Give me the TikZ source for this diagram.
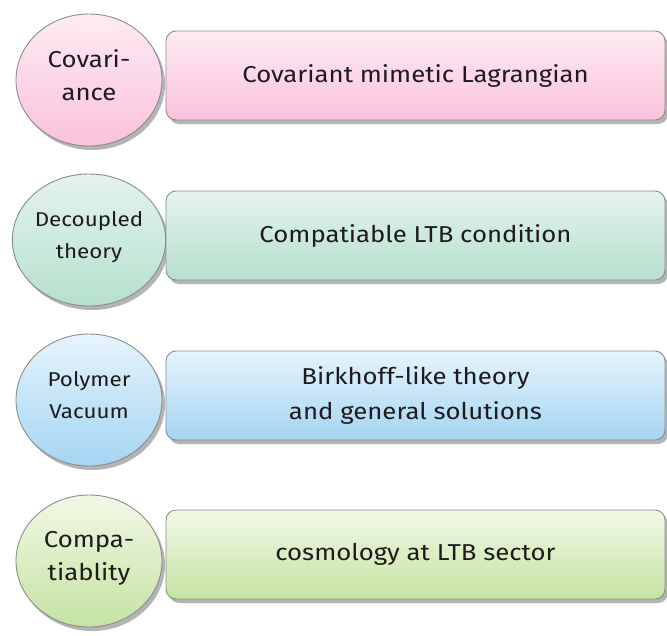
\documentclass[tikz,border=0pt]{standalone}
\usepackage{fontspec}
\setmainfont[FakeStretch=1.12]{Fira Sans}
\usetikzlibrary{shapes.geometric,shadows}

% gradient pairs for the four rows
\definecolor{pinkT}{HTML}{FDEBF3}
\definecolor{pinkB}{HTML}{FBC2DB}
\definecolor{tealT}{HTML}{E4F3ED}
\definecolor{tealB}{HTML}{B6E0CE}
\definecolor{blueT}{HTML}{E6F4FC}
\definecolor{blueB}{HTML}{A4D5F2}
\definecolor{limeT}{HTML}{F1F8E6}
\definecolor{limeB}{HTML}{C5E3A2}
\definecolor{edgegray}{HTML}{8C8C8C}
\definecolor{shadowgray}{HTML}{B4B4B4}
\definecolor{ink}{HTML}{1E1A1E}

\tikzset{
  shade/.style={drop shadow={shadow xshift=3pt, shadow yshift=-4pt,
                             fill=shadowgray, opacity=1}},
  bubble/.style={ellipse, draw=edgegray, line width=0.9pt, shade,
                 minimum width=146pt, minimum height=132pt, inner sep=0pt,
                 align=center, text=ink, text depth=10pt},
  panel/.style={rectangle, rounded corners=10pt, draw=edgegray, line width=0.9pt,
                shade, minimum width=499pt, minimum height=89pt, inner sep=0pt,
                align=center, text=ink,
                font=\fontsize{23}{35}\selectfont},
  bigtxt/.style={font=\fontsize{23}{33}\selectfont},
  smalltxt/.style={font=\fontsize{20}{32}\selectfont},
}

\begin{document}
\begin{tikzpicture}[x=1pt, y=-1pt]
  \useasboundingbox (0,0) rectangle (667,635);

  % left-hand topic bubbles
  \node[bubble, bigtxt, top color=pinkT, bottom color=pinkB] (c1) at (89,80) {Covari-\\ance};
  \node[bubble, smalltxt, top color=tealT, bottom color=tealB] (c2) at (89,240) {Decoupled\\theory};
  \node[bubble, smalltxt, top color=blueT, bottom color=blueB] (c3) at (89,400) {Polymer\\Vacuum};
  \node[bubble, bigtxt, top color=limeT, bottom color=limeB] (c4) at (89,561) {Compa-\\tiablity};

  % right-hand description panels
  \node[panel, top color=pinkT, bottom color=pinkB] (r1) at (415.5,75.5) {Covariant mimetic Lagrangian};
  \node[panel, top color=tealT, bottom color=tealB] (r2) at (415.5,235.5) {Compatiable LTB condition};
  \node[panel, top color=blueT, bottom color=blueB] (r3) at (415.5,395.5) {Birkhoff-like theory\\and general solutions};
  \node[panel, top color=limeT, bottom color=limeB] (r4) at (415.5,554.5) {cosmology at LTB sector};
\end{tikzpicture}
\end{document}
